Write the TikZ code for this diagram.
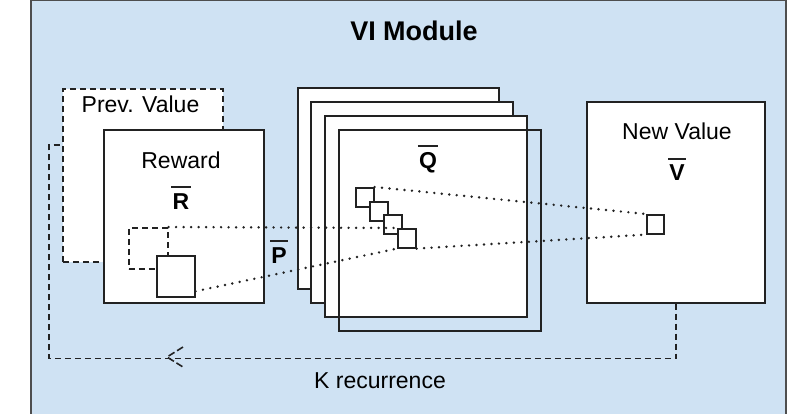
\documentclass[tikz,border=0pt]{standalone}
\usepackage{fontspec}
\setmainfont{Liberation Sans}
\usetikzlibrary{calc}
\definecolor{bgblue}{HTML}{CFE2F3}
\definecolor{edge}{HTML}{222222}
\begin{document}
\begin{tikzpicture}[x=1pt,y=-1pt,
  box/.style={draw=edge,line width=1.6pt,fill=white,inner sep=0pt,anchor=north west},
  dbox/.style={box,dash pattern=on 6pt off 4pt},
  obox/.style={draw=edge,line width=1.6pt,inner sep=0pt,anchor=north west},
  lbl/.style={font=\fontsize{23}{27}\selectfont,inner sep=0pt},
  sym/.style={font=\fontsize{23}{27}\selectfont\bfseries,inner sep=0pt},
  bar/.style={draw=edge,line width=2pt},
  dotline/.style={draw=edge,line width=2.7pt,line cap=round,dash pattern=on 0pt off 7.5pt},
  dashline/.style={draw=edge,line width=1.6pt,dash pattern=on 6pt off 4pt}]
\useasboundingbox (0,0) rectangle (787,413);
\clip (0,0) rectangle (787,413);
% outer module
\draw[fill=bgblue,draw=edge!80,line width=2pt] (31,0) rectangle (785.5,420);
\node[font=\fontsize{27}{31}\selectfont\bfseries,inner sep=0pt] (title) at (414,31) {VI Module};
% previous value and reward
\node[dbox,minimum width=160pt,minimum height=173pt] (prev) at (62,88) {};
\node[lbl] (prevtxt) at (140.5,104) {Prev. Value};
\node[box,minimum width=160pt,minimum height=173pt] (rew) at (103,129) {};
\node[lbl] (rewtxt) at (181,160) {Reward};
\node[sym] (rsym) at (181,202) {R};
\draw[bar] ([xshift=-1pt,yshift=7pt]rsym.north west) -- ([xshift=1pt,yshift=7pt]rsym.north east);
\node[dbox,fill=none,minimum width=39pt,minimum height=41pt] (dsq) at (128,227) {};
\node[box,minimum width=38pt,minimum height=41pt] (ssq) at (156,255) {};
\node[sym] (psym) at (279,256) {P};
\draw[bar] ([xshift=-1pt,yshift=7pt]psym.north west) -- ([xshift=1pt,yshift=7pt]psym.north east);
% Q stack
\node[box,minimum width=201pt,minimum height=201pt] (q1) at (297,87) {};
\node[box,minimum width=202pt,minimum height=201pt] (q2) at (310,101) {};
\node[box,minimum width=202pt,minimum height=201pt] (q3) at (324,115) {};
\node[obox,minimum width=202pt,minimum height=201pt] (q4) at (338,129) {};
\node[sym,anchor=north] (qsym) at (428,152) {Q};
\draw[bar] ([xshift=-1pt,yshift=6pt]qsym.north west) -- ([xshift=1pt,yshift=6pt]qsym.north east);
\node[box,minimum width=18pt,minimum height=19pt] (s1) at (355,187) {};
\node[box,minimum width=18pt,minimum height=19pt] (s2) at (369,201) {};
\node[box,minimum width=18pt,minimum height=19pt] (s3) at (383,214) {};
\node[box,minimum width=18pt,minimum height=19pt] (s4) at (397,228) {};
% new value
\node[box,minimum width=178pt,minimum height=201pt] (newv) at (586,101) {};
\node[lbl] (newtxt) at (677,131) {New Value};
\node[sym] (vsym) at (677,173) {V};
\draw[bar] ([xshift=-1pt,yshift=6pt]vsym.north west) -- ([xshift=1pt,yshift=6pt]vsym.north east);
\node[box,minimum width=17pt,minimum height=19pt] (vsq) at (646,214) {};
% dotted projections
\draw[dotline] (dsq.north east) -- (s4.north west);
\draw[dotline] ($(ssq.south east)!0.15!(ssq.north east)$) -- (s4.south west);
\draw[dotline] (s1.north east) -- (vsq.north west);
\draw[dotline] (s4.south east) -- (vsq.south west);
% recurrence loop
\coordinate (fbend) at (49,145);
\coordinate (arr) at (167,357);
\draw[dashline] (newv.south) -- ++(0,55) -| (fbend) -- (fbend -| prev.west);
\draw[dashline,dash pattern=on 7pt off 3pt] ($(arr)+(16,-10)$) -- (arr) -- ($(arr)+(16,10)$);
\node[lbl] (ktxt) at (380,381) {K recurrence};
\end{tikzpicture}
\end{document}
